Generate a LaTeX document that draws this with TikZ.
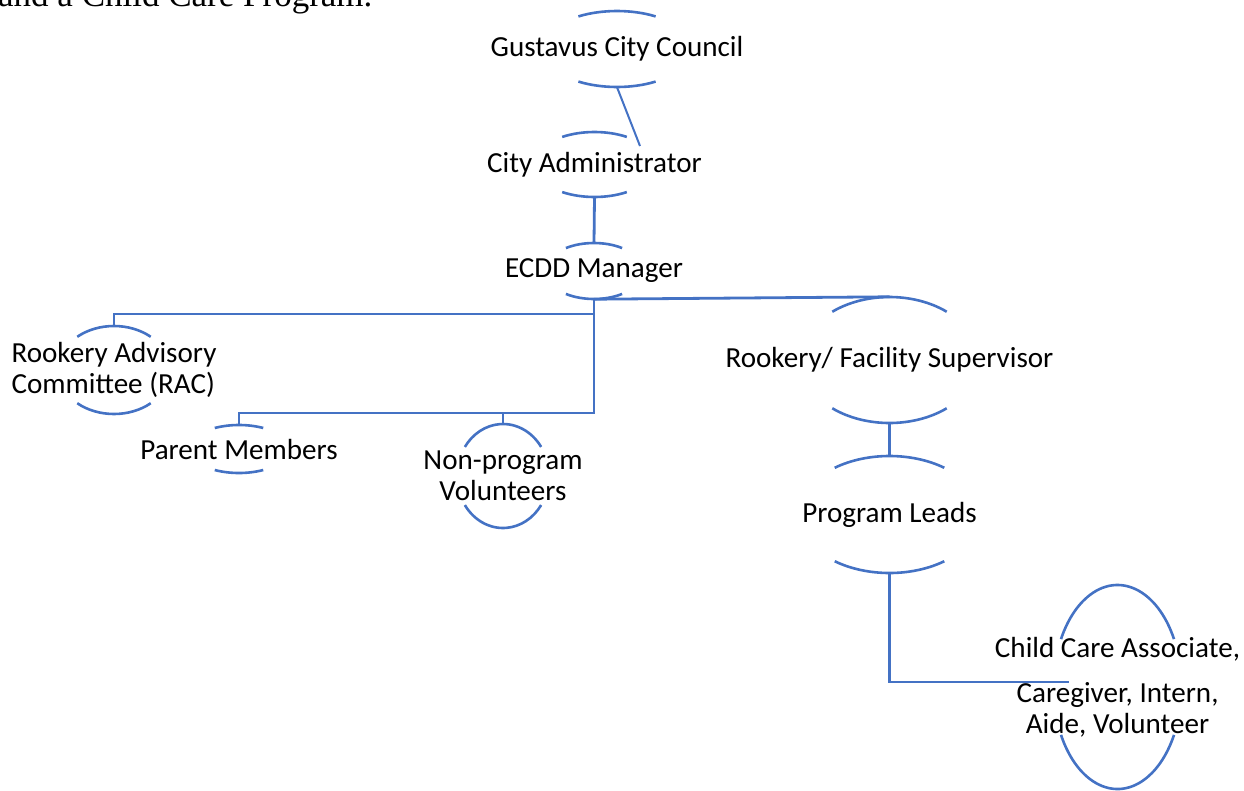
\documentclass[tikz,border=0pt]{standalone}
\usepackage{fontspec}
\setmainfont{Carlito}
\newfontfamily\introfont{Liberation Serif}
\usetikzlibrary{calc}
\definecolor{orgblue}{RGB}{68,114,196}
\def\ovalcaps[#1](#2)(#3:#4:#5){
	\draw[#1] (#2.center) ++(#5:#3 and #4) arc[start angle=#5, end angle={180-#5}, x radius=#3, y radius=#4];
	\draw[#1] (#2.center) ++({180+#5}:#3 and #4) arc[start angle={180+#5}, end angle={360-#5}, x radius=#3, y radius=#4];
}

\begin{document}
\begin{tikzpicture}[x=1pt, y=1pt,
		link/.style={draw=orgblue, line width=2.8pt},
		caps/.style={orgblue, line width=2.6pt},
		role/.style={rectangle, inner sep=0pt, align=center, font=\fontsize{29.1}{31}\selectfont}]
			%%%%% START %%%%%
			
			\useasboundingbox (0,0) rectangle (1244,-790);
			
			\node[anchor=base west, inner sep=0pt, font=\introfont\fontsize{35}{40}\selectfont] (intro) at (-2,-6) {and a Child Care Program.};
			
			\node[role, minimum height=76] (gcc) at (617,-49) {Gustavus City Council};
			\node[role, minimum height=65] (cad) at (594.5,-164.5) {City Administrator};
			\node[role, minimum height=56] (ecdd) at (594,-271) {ECDD Manager};
			\node[role, align=left, minimum height=88] (rac) at (114,-370) {Rookery Advisory\\Committee (RAC)};
			\node[role, minimum height=48] (pm) at (239,-449) {Parent Members};
			\node[role, minimum height=104] (npv) at (503,-476) {Non-program\\Volunteers};
			\node[role, minimum height=126] (rfs) at (889.5,-360) {Rookery/ Facility Supervisor};
			\node[role, minimum height=117] (pl) at (889.5,-514.5) {Program Leads};
			\node[role, minimum height=204] (cca) at (1117.5,-687) {Child Care Associate,\\[13.5pt]Caregiver, Intern,\\Aide, Volunteer};
			
			\ovalcaps[caps](gcc)(75:38:59)
			\ovalcaps[caps](cad)(61:32.5:58)
			\ovalcaps[caps](ecdd)(49:28:55)
			\ovalcaps[caps](rac)(56:44:49)
			\ovalcaps[caps](pm)(50:24:61)
			\ovalcaps[caps](npv)(46:52:34)
			\ovalcaps[caps](rfs)(89:63:50)
			\ovalcaps[caps](pl)(91:58.5:53)
			\ovalcaps[caps](cca)(64:102:28)
			
			\coordinate (cadtip) at (640,-146);
			\coordinate (highbus) at (594,-314);
			\coordinate (lowbus) at (594,-413);
			\coordinate (ccatip) at (1069,-682);
			
			\draw[link, line width=2pt] (gcc.south) -- (cadtip);
			\draw[link] (cad.south) -- (ecdd.north);
			\draw[link] (ecdd.south) -- (rfs.north);
			\draw[link] (ecdd.south) -- (lowbus) -| (pm.north);
			\draw[link] (lowbus) -| (npv.north);
			\draw[link] (highbus) -| (rac.north);
			\draw[link] (rfs.south) -- (pl.north);
			\draw[link] (pl.south) |- (ccatip);
			
			%%%%% END %%%%%
		\end{tikzpicture}
\end{document}
